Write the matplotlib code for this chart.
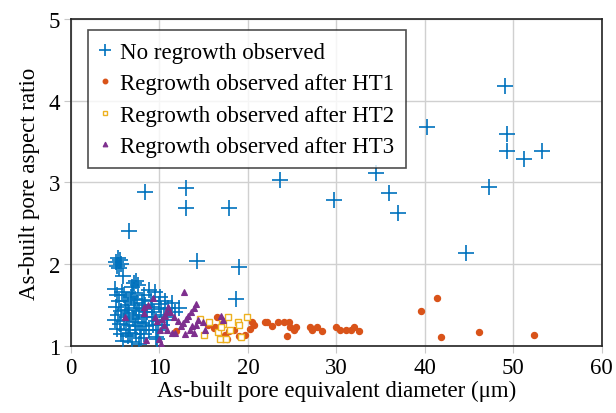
import matplotlib
matplotlib.use("Agg")
import matplotlib.pyplot as plt

plt.rcParams['font.family'] = ['Liberation Serif', 'DejaVu Serif']
plt.rcParams['mathtext.fontset'] = 'stix'

# ---------------- data ----------------
no_regrowth_x = [49.0, 40.2, 49.3, 49.3, 51.2, 53.2, 34.5, 35.9, 37.0, 47.2, 44.7,
                 23.6, 29.7, 8.4, 13.0, 13.0, 17.9, 6.6, 14.2, 19.0, 18.7,
                 5.1, 5.3, 5.5, 5.2, 5.6, 5.4, 5.9, 7.1, 7.4, 7.6, 6.9, 9.5, 10.1, 11.4, 10.6,
                 5.0, 5.2, 5.4, 5.1, 5.6, 5.3, 5.0, 5.5, 5.2, 5.7, 5.9,
                 6.0, 6.2, 6.4, 6.1, 6.6, 6.3, 6.0, 6.5, 6.2, 6.7, 6.4,
                 7.0, 7.2, 7.5, 7.1, 7.7, 7.3, 7.0, 7.6, 7.2, 7.8, 7.4, 7.9,
                 8.2, 8.0, 8.4, 8.1, 8.6, 8.3, 8.0, 8.5, 8.8, 8.2,
                 9.0, 9.2, 9.4, 9.1, 9.6, 9.3, 9.8, 9.6,
                 10.2, 10.5, 10.8, 10.3, 11.0, 6.8, 5.8, 8.8, 9.9, 6.9, 7.7, 9.7,
                 11.8, 10.9, 12.2]
no_regrowth_y = [4.18, 3.68, 3.59, 3.38, 3.29, 3.38, 3.11, 2.87, 2.63, 2.94, 2.14,
                 3.03, 2.79, 2.88, 2.93, 2.69, 2.69, 2.41, 2.04, 1.97, 1.57,
                 2.03, 2.07, 2.05, 1.98, 2.00, 1.95, 1.86, 1.77, 1.79, 1.74, 1.72, 1.66, 1.60, 1.52, 1.55,
                 1.70, 1.62, 1.55, 1.48, 1.43, 1.38, 1.32, 1.27, 1.21, 1.15, 1.06,
                 1.62, 1.55, 1.50, 1.44, 1.40, 1.35, 1.30, 1.25, 1.20, 1.16, 1.12,
                 1.65, 1.58, 1.52, 1.47, 1.43, 1.38, 1.33, 1.29, 1.24, 1.19, 1.14, 1.10,
                 1.62, 1.56, 1.50, 1.45, 1.41, 1.35, 1.28, 1.24, 1.19, 1.15,
                 1.55, 1.48, 1.42, 1.36, 1.30, 1.25, 1.20, 1.11,
                 1.45, 1.38, 1.32, 1.25, 1.47, 1.60, 1.66, 1.68, 1.51, 1.05, 1.02, 1.08,
                 1.42, 1.36, 1.47]

ht1_x = [11.9, 15.5, 16.2, 16.5, 16.3, 17.4, 17.2, 17.6, 17.9, 18.4, 19.0, 19.7, 20.2, 20.5, 20.7,
         21.9, 22.1, 22.7, 23.4, 24.1, 24.6, 24.8, 24.4, 25.2, 25.4, 27.0, 27.2, 27.8,
         28.4, 30.0, 30.4, 31.1, 31.6, 32.0, 32.5, 39.6, 41.4, 41.8, 46.1, 52.3]
ht1_y = [1.18, 1.25, 1.22, 1.35, 1.23, 1.13, 1.09, 1.09, 1.18, 1.19, 1.12, 1.13, 1.21, 1.29, 1.26,
         1.29, 1.29, 1.24, 1.29, 1.29, 1.29, 1.23, 1.12, 1.19, 1.23, 1.23, 1.19, 1.23,
         1.18, 1.23, 1.19, 1.19, 1.20, 1.23, 1.18, 1.43, 1.59, 1.11, 1.17, 1.13]

ht2_x = [14.6, 15.0, 15.6, 16.6, 16.8, 17.1, 17.2, 17.8, 18.0, 18.9, 19.0, 19.2, 19.9, 16.9, 17.5]
ht2_y = [1.33, 1.13, 1.29, 1.17, 1.09, 1.29, 1.27, 1.35, 1.20, 1.29, 1.25, 1.11, 1.35, 1.23, 1.09]

ht3_x = [12.8, 14.1, 13.9, 13.6, 13.2, 13.0, 12.7, 12.4, 12.1, 11.6, 11.2, 11.0, 10.6, 10.3, 10.5,
         10.1, 13.4, 13.7, 14.1, 14.3, 11.8, 10.8, 12.9, 13.9, 9.9, 9.3, 8.2, 6.1, 8.5, 10.2,
         9.7, 8.7, 9.5, 10.7, 11.4, 14.9, 15.1, 17.0, 17.2, 8.3]
ht3_y = [1.66, 1.51, 1.46, 1.41, 1.37, 1.33, 1.28, 1.24, 1.30, 1.36, 1.42, 1.48, 1.37, 1.33, 1.26,
         1.20, 1.20, 1.24, 1.26, 1.32, 1.16, 1.20, 1.14, 1.16, 1.09, 1.59, 1.40, 1.35, 1.07, 1.02,
         1.31, 1.50, 1.35, 1.42, 1.16, 1.29, 1.19, 1.37, 1.32, 1.48]

labels = ['No regrowth observed', 'Regrowth observed after HT1',
          'Regrowth observed after HT2', 'Regrowth observed after HT3']
x_ticks = [0, 10, 20, 30, 40, 50, 60]
y_ticks = [1, 2, 3, 4, 5]

# ---------------- plot ----------------
fig = plt.figure(figsize=(6.16, 4.14), dpi=100)
ax = fig.add_axes([0.1153, 0.162, 0.8617, 0.7897])

ax.plot(no_regrowth_x, no_regrowth_y, linestyle='none', marker='+', markersize=11,
        markeredgewidth=1.2, color='#0072BD', label=labels[0], zorder=3)
ax.plot(ht1_x, ht1_y, linestyle='none', marker='o', markersize=4.3,
        color='#D95319', label=labels[1], zorder=3)
ax.plot(ht2_x, ht2_y, linestyle='none', marker='s', markersize=4.5, markerfacecolor='white',
        markeredgewidth=1.0, markeredgecolor='#EDB120', label=labels[2], zorder=3)
ax.plot(ht3_x, ht3_y, linestyle='none', marker='^', markersize=4.5,
        markeredgewidth=0.8, color='#7E2F8E', label=labels[3], zorder=4)

ax.set_xlim(0, 60)
ax.set_ylim(1, 5)
ax.set_xticks(x_ticks)
ax.set_yticks(y_ticks)
ax.grid(True, color='#d0d0d0', linewidth=1.0)
ax.set_axisbelow(True)
ax.tick_params(direction='out', length=5, color='#c8c8c8', labelsize=16.5, pad=3)
for s in ax.spines.values():
    s.set_color('#222222')
    s.set_linewidth(1.2)

ax.set_xlabel('As-built pore equivalent diameter (μm)', fontsize=16.5, labelpad=1)
ax.set_ylabel('As-built pore aspect ratio', fontsize=16.5, labelpad=6)

leg = ax.legend(loc='upper left', bbox_to_anchor=(0.032, 0.965), fontsize=16.5, frameon=True,
                fancybox=False, edgecolor='#222222', handlelength=0.5, handletextpad=0.4,
                borderpad=0.5, borderaxespad=0.0, labelspacing=0.45, markerscale=0.75)
leg.get_frame().set_linewidth(1.2)
leg.get_frame().set_width(leg.get_frame().get_width())

fig.savefig('out.png', dpi=100)
